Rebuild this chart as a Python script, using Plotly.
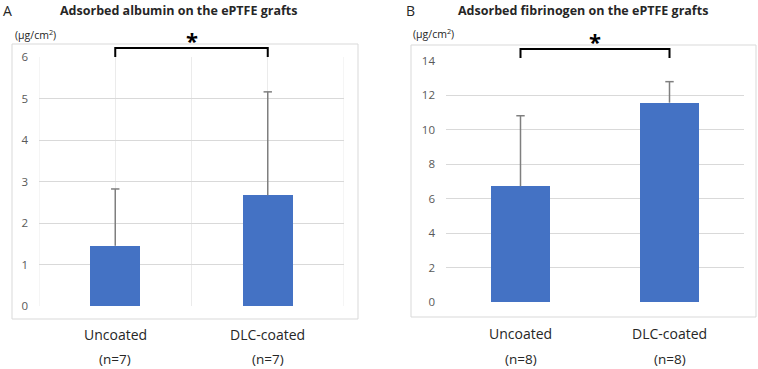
import plotly.graph_objects as go

W, H = 758, 369

categories = ["Uncoated", "DLC-coated"]
n_albumin = ["(n=7)", "(n=7)"]
n_fibrinogen = ["(n=8)", "(n=8)"]

albumin_mean = [1.45, 2.67]
albumin_sd = [1.37, 2.49]

fibrinogen_mean = [6.72, 11.58]
fibrinogen_sd = [4.10, 1.22]

title_a = "Adsorbed albumin on the ePTFE grafts"
title_b = "Adsorbed fibrinogen on the ePTFE grafts"
unit_label = "(µg/cm<sup>2</sup>)"

BAR = "#4472C4"
GRID = "#d9d9d9"
TICK = "#595959"
TEXT = "#262626"
ERR = "#7f7f7f"
FONT = "Open Sans"


def px(x):
    return x / W


def py(y):
    return 1 - y / H


fig = go.Figure()

panels = [("x", "y", albumin_mean, albumin_sd, 0.33),
          ("x2", "y2", fibrinogen_mean, fibrinogen_sd, 0.40)]

for xa, ya, means, sds, bw in panels:
    fig.add_trace(go.Bar(
        x=categories, y=means, width=bw,
        marker=dict(color=BAR, line=dict(width=0)),
        xaxis=xa, yaxis=ya, showlegend=False,
    ))
    tops = [m + s for m, s in zip(means, sds)]
    # upper error whisker (from the mean up to mean+SD) with a cap marker on top
    fig.add_trace(go.Scatter(
        x=categories, y=tops, mode="markers",
        marker=dict(symbol="line-ew-open", size=6, color=ERR, line=dict(color=ERR, width=1.5)),
        error_y=dict(type="data", array=[0] * len(sds), arrayminus=sds, symmetric=False,
                     color=ERR, thickness=1.5, width=0),
        xaxis=xa, yaxis=ya, showlegend=False, hoverinfo="skip",
    ))

common_y = dict(showline=False, zeroline=False, gridcolor=GRID, gridwidth=1,
                tickfont=dict(family=FONT, size=11.5, color=TICK), ticks="",
                ticklabelstandoff=10, fixedrange=True, automargin=False)
common_x = dict(showline=False, zeroline=False, showticklabels=False, ticks="",
                range=[-0.5, 1.5], fixedrange=True, automargin=False)

fig.update_layout(
    width=W, height=H,
    margin=dict(l=0, r=0, t=0, b=0, autoexpand=False),
    paper_bgcolor="white", plot_bgcolor="white",
    font=dict(family=FONT, color=TEXT),
    bargap=0,
    showlegend=False,
    xaxis=dict(domain=[px(39), px(344)], anchor="y", showgrid=True, gridcolor="#ebebeb", **common_x),
    yaxis=dict(domain=[py(306), py(57)], anchor="x", range=[0, 6], dtick=1, **common_y),
    xaxis2=dict(domain=[px(446), px(744)], anchor="y2", showgrid=False, **common_x),
    yaxis2=dict(domain=[py(302), py(61)], anchor="x2", range=[0, 14], dtick=2, **common_y),
)

shapes = []
# outer chart-area boxes
shapes.append(dict(type="rect", xref="paper", yref="paper", x0=px(12), x1=px(358), y0=py(319), y1=py(44),
                   line=dict(color=GRID, width=1), layer="below"))
shapes.append(dict(type="rect", xref="paper", yref="paper", x0=px(411), x1=px(756), y0=py(317), y1=py(45),
                   line=dict(color=GRID, width=1), layer="below"))
# panel A vertical gridlines at category boundaries
for xv in [-0.5, 0.5, 1.5]:
    shapes.append(dict(type="line", xref="x", yref="y", x0=xv, x1=xv, y0=0, y1=6,
                       line=dict(color="#ebebeb", width=1), layer="below"))
# significance brackets
shapes.append(dict(type="path", xref="x", yref="paper",
                   path=f"M 0,{py(57)} L 0,{py(48)} L 1,{py(48)} L 1,{py(57)}",
                   line=dict(color="black", width=2)))
shapes.append(dict(type="path", xref="x2", yref="paper",
                   path=f"M 0,{py(58)} L 0,{py(49)} L 1,{py(49)} L 1,{py(58)}",
                   line=dict(color="black", width=2)))
fig.update_layout(shapes=shapes)


def note(text, x, y, xref="paper", size=13, color=TEXT, xanchor="center"):
    return dict(text=text, x=x, y=y, xref=xref, yref="paper", xanchor=xanchor, yanchor="middle",
                showarrow=False, font=dict(family=FONT, size=size, color=color))


ann = [
    note("A", px(1), py(10), size=14, xanchor="left"),
    note("B", px(404), py(10), size=14, xanchor="left"),
    note(f"<b>{title_a}</b>", px(178), py(10), size=12.5),
    note(f"<b>{title_b}</b>", px(583), py(10), size=12.5),
    note(unit_label, px(13), py(34), size=10.5, xanchor="left"),
    note(unit_label, px(411), py(33), size=10.5, xanchor="left"),
    note("<b>*</b>", 0.5, py(40), xref="x", size=22, color="black"),
    note("<b>*</b>", 0.5, py(41), xref="x2", size=22, color="black"),
]
for i, c in enumerate(categories):
    ann.append(note(c, i, py(334), xref="x", size=14))
    ann.append(note(n_albumin[i], i, py(359), xref="x", size=13.5))
    ann.append(note(c, i, py(333), xref="x2", size=14))
    ann.append(note(n_fibrinogen[i], i, py(359), xref="x2", size=13.5))
fig.update_layout(annotations=ann)

# remove the browser's default 8px body margin so the figure fills the window exactly
fig.write_html("out.html", config={"displayModeBar": False, "staticPlot": True},
               post_script="document.body.style.margin='0px';document.body.style.overflow='hidden';")
